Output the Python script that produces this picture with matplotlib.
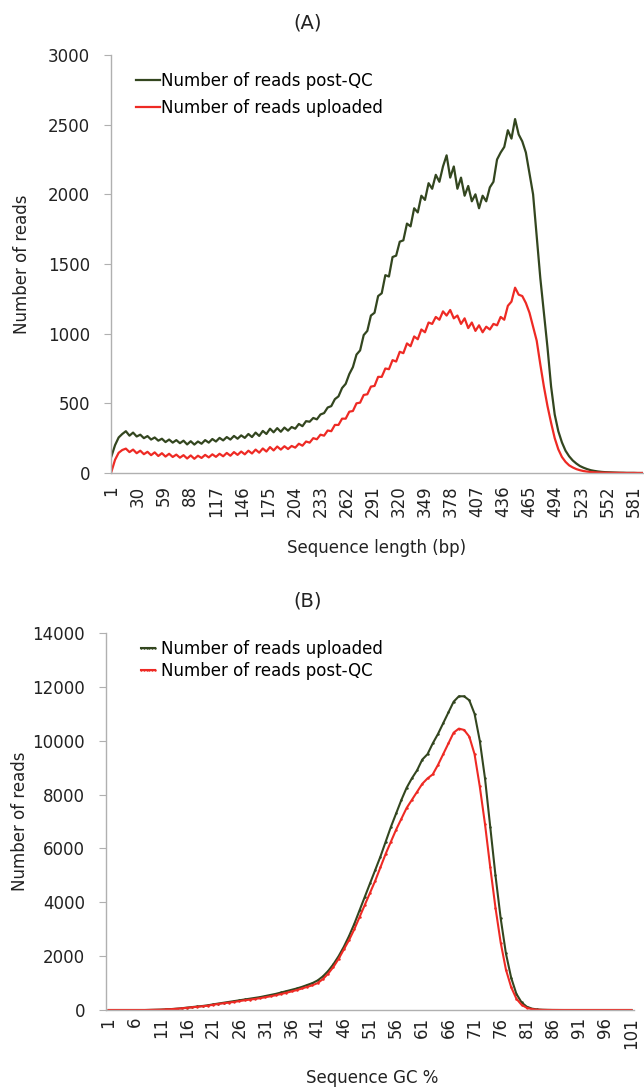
import matplotlib
matplotlib.use("Agg")
import matplotlib.pyplot as plt

plt.rcParams['font.family'] = ['DejaVu Sans']

# ---------------- Panel A data (read every 4 bp) ----------------
len_bp = list(range(1, 598, 4))
postqc_len = [120, 200, 255, 280, 300, 268, 290, 262, 275, 250, 265, 240, 255, 232, 246, 222,
              240, 218, 236, 214, 232, 205, 228, 204, 226, 210, 236, 218, 244, 226, 252, 234,
              258, 240, 266, 246, 270, 252, 280, 258, 290, 266, 302, 280, 318, 292, 322, 296,
              326, 304, 330, 318, 352, 336, 372, 368, 395, 385, 420, 430, 470, 480, 530, 550,
              610, 640, 710, 760, 850, 880, 990, 1020, 1130, 1150, 1270, 1290, 1420, 1410, 1550, 1560,
              1660, 1670, 1790, 1770, 1900, 1870, 1990, 1960, 2080, 2040, 2140, 2090, 2200, 2280, 2120, 2200,
              2040, 2120, 1990, 2060, 1950, 2000, 1900, 1990, 1950, 2050, 2090, 2250, 2300, 2340, 2460, 2400,
              2540, 2430, 2380, 2300, 2150, 2000, 1700, 1400, 1150, 900, 620, 420, 300, 220, 160, 120,
              90, 68, 50, 38, 28, 20, 15, 11, 8, 6, 5, 4, 3, 2, 2, 1,
              1, 1, 0, 0, 0, 0]
uploaded_len = [10, 95, 145, 165, 175, 150, 168, 142, 160, 135, 152, 128, 148, 122, 142, 118,
                138, 115, 132, 110, 128, 104, 126, 102, 124, 108, 130, 112, 134, 116, 138, 120,
                144, 124, 150, 130, 154, 134, 160, 140, 168, 146, 176, 154, 186, 162, 190, 168,
                192, 172, 194, 182, 210, 196, 226, 218, 250, 242, 275, 268, 305, 300, 345, 345,
                390, 390, 440, 445, 500, 505, 560, 565, 620, 625, 690, 690, 750, 745, 810, 800,
                870, 860, 930, 910, 980, 960, 1030, 1010, 1080, 1070, 1120, 1100, 1160, 1130, 1170, 1110,
                1130, 1070, 1110, 1040, 1080, 1020, 1060, 1010, 1050, 1030, 1070, 1060, 1120, 1100, 1200, 1230,
                1330, 1280, 1270, 1220, 1150, 1050, 950, 780, 620, 480, 360, 250, 170, 115, 80, 55,
                40, 28, 20, 14, 10, 7, 5, 4, 3, 2, 2, 1, 1, 1, 0, 0,
                0, 0, 0, 0, 0, 0]
len_ticks = list(range(1, 582, 29))

# ---------------- Panel B data (GC %) ----------------
gc_pct = list(range(1, 102))
uploaded_gc = [0, 0, 0, 0, 0, 0, 0, 0, 5, 10,
               15, 25, 35, 50, 65, 90, 110, 130, 150, 175,
               210, 240, 270, 300, 330, 360, 390, 420, 450, 480,
               520, 560, 600, 650, 700, 750, 800, 860, 930, 1000,
               1100, 1250, 1450, 1700, 2000, 2350, 2750, 3200, 3700, 4200,
               4700, 5200, 5700, 6250, 6800, 7300, 7800, 8250, 8600, 8900,
               9300, 9500, 9900, 10250, 10650, 11050, 11450, 11650, 11650, 11500,
               11000, 10000, 8600, 6800, 5000, 3400, 2100, 1200, 600, 280,
               120, 50, 20, 10, 5, 2, 1, 0, 0, 0,
               0, 0, 0, 0, 0, 0, 0, 0, 0, 0, 0]
postqc_gc = [0, 0, 0, 0, 0, 0, 0, 0, 4, 8,
             12, 20, 30, 45, 60, 80, 100, 120, 140, 160,
             195, 225, 250, 275, 300, 330, 360, 385, 410, 440,
             475, 510, 550, 595, 640, 690, 740, 800, 860, 920,
             1000, 1150, 1350, 1600, 1900, 2250, 2600, 3000, 3450, 3900,
             4350, 4800, 5300, 5800, 6250, 6700, 7100, 7500, 7800, 8100,
             8400, 8600, 8750, 9100, 9500, 9900, 10300, 10450, 10400, 10150,
             9500, 8300, 6900, 5300, 3800, 2500, 1500, 850, 420, 190,
             80, 30, 12, 5, 2, 1, 0, 0, 0, 0,
             0, 0, 0, 0, 0, 0, 0, 0, 0, 0, 0]
gc_ticks = list(range(1, 102, 5))

GREEN = '#33461f'
RED = '#ee2a24'
TXT = '#222222'
SPINE = '#b0b0b0'
FS = 12

W, H = 644, 1089
fig = plt.figure(figsize=(W / 100, H / 100), dpi=100)

def style(ax, xpad):
    for s in ['top', 'right']:
        ax.spines[s].set_visible(False)
    for s in ['left', 'bottom']:
        ax.spines[s].set_color(SPINE)
        ax.spines[s].set_linewidth(1.0)
    ax.tick_params(axis='y', direction='out', length=5, color=SPINE, labelsize=FS,
                   labelcolor=TXT, pad=10)
    ax.tick_params(axis='x', length=0, labelsize=FS, labelcolor=TXT, pad=xpad, labelrotation=90)

def box(l, t, r, b):
    return [l / W, 1 - b / H, (r - l) / W, (b - t) / H]

# Panel A
axA = fig.add_axes(box(111, 55, 643, 473))
axA.plot(len_bp, postqc_len, color=GREEN, lw=1.6, label='Number of reads post-QC')
axA.plot(len_bp, uploaded_len, color=RED, lw=1.6, label='Number of reads uploaded')
axA.set_xlim(0.5, 591)
axA.set_ylim(0, 3000)
axA.set_yticks(range(0, 3001, 500))
axA.set_xticks(len_ticks)
axA.set_xticklabels([str(t) for t in len_ticks])
style(axA, 9)
axA.legend(loc='upper left', bbox_to_anchor=(0.035, 0.975), frameon=False, fontsize=FS,
           handlelength=1.4, handletextpad=0.1, labelspacing=0.55, borderaxespad=0)
fig.text(308 / W, 1 - 23 / H, '(A)', ha='center', va='center', fontsize=14, color=TXT)
fig.text(22 / W, 1 - 264 / H, 'Number of reads', rotation=90, ha='center', va='center',
         fontsize=FS, color=TXT)
fig.text(377 / W, 1 - 548 / H, 'Sequence length (bp)', ha='center', va='center',
         fontsize=FS, color=TXT)

# Panel B
axB = fig.add_axes(box(106, 633, 634, 1010))
axB.plot(gc_pct, uploaded_gc, color=GREEN, lw=1.5, marker='o', ms=1.8, mew=0,
         label='Number of reads uploaded')
axB.plot(gc_pct, postqc_gc, color=RED, lw=1.5, marker='o', ms=1.8, mew=0,
         label='Number of reads post-QC')
axB.set_xlim(0.5, 101.5)
axB.set_ylim(0, 14000)
axB.set_yticks(range(0, 14001, 2000))
axB.set_xticks(gc_ticks)
axB.set_xticklabels([str(t) for t in gc_ticks])
style(axB, 5)
axB.legend(loc='upper left', bbox_to_anchor=(0.045, 1.0), frameon=False, fontsize=FS,
           handlelength=1.4, handletextpad=0.1, labelspacing=0.25, borderaxespad=0,
           numpoints=6)
fig.text(308 / W, 1 - 601 / H, '(B)', ha='center', va='center', fontsize=14, color=TXT)
fig.text(20 / W, 1 - 821 / H, 'Number of reads', rotation=90, ha='center', va='center',
         fontsize=FS, color=TXT)
fig.text(372 / W, 1 - 1078 / H, 'Sequence GC %', ha='center', va='center',
         fontsize=FS, color=TXT)

fig.savefig('out.png', dpi=100, facecolor='white')
